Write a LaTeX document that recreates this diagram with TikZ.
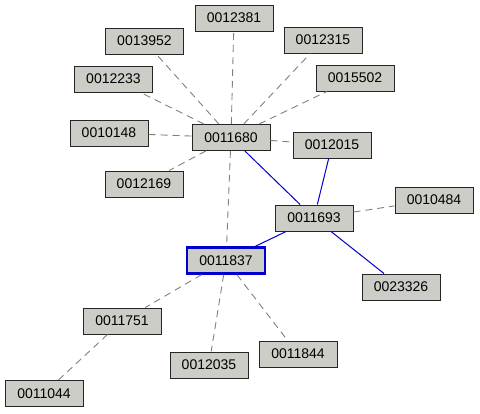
\documentclass[tikz,border=0pt]{standalone}
\usepackage{fontspec}
\setmainfont{Liberation Sans}
\usepackage{xcolor}
\usepackage{tikz}
\definecolor{boxgray}{RGB}{204,205,198}
\definecolor{linkblue}{RGB}{0,0,204}

\begin{document}
\begin{tikzpicture}[
  x=1pt, y=-1pt,
  rec/.style={draw=black!85, fill=boxgray, rectangle, line width=1pt,
              minimum width=78pt, minimum height=26pt, inner sep=0pt,
              font=\fontsize{14}{16}\selectfont},
  focus/.style={rec, draw=linkblue, line width=2.4pt},
  weak/.style={draw=black!50, line width=0.9pt, dash pattern=on 7pt off 5pt},
  strong/.style={draw=linkblue, line width=1pt},
]
\useasboundingbox (0,0) rectangle (480,413);

%% Records around 0011680
\node[rec] (r12381) at (234, 18)  {0012381};
\node[rec] (r13952) at (144.5, 41) {0013952};
\node[rec] (r12315) at (323, 40)  {0012315};
\node[rec] (r12233) at (113.5, 79) {0012233};
\node[rec] (r15502) at (355, 78)  {0015502};
\node[rec] (r10148) at (109, 133) {0010148};
\node[rec] (r11680) at (231, 137.5) {0011680};
\node[rec] (r12015) at (332, 145) {0012015};
\node[rec] (r12169) at (144, 184) {0012169};

%% Records around 0011693
\node[rec] (r10484) at (434, 200) {0010484};
\node[rec] (r11693) at (314, 218) {0011693};
\node[rec] (r23326) at (401, 287) {0023326};

%% Selected record and its neighbours
\node[focus] (r11837) at (226, 260.5) {0011837};
\node[rec] (r11751) at (122, 321) {0011751};
\node[rec] (r12035) at (209, 365) {0012035};
\node[rec] (r11844) at (298, 354) {0011844};
\node[rec] (r11044) at (44, 393.5) {0011044};

%% Weak links (dashed)
\foreach \a/\b in {r11680/r12381, r11680/r13952, r11680/r12315, r11680/r12233,
                   r11680/r15502, r11680/r10148, r11680/r12015, r11680/r12169,
                   r11680/r11837, r11693/r10484, r11837/r11751, r11837/r12035,
                   r11837/r11844, r11751/r11044} {
  \draw[weak] (\a) -- (\b);
}

%% Strong links (blue)
\foreach \a/\b in {r11680/r11693, r12015/r11693, r11693/r11837, r11693/r23326} {
  \draw[strong] (\a) -- (\b);
}
\end{tikzpicture}
\end{document}
